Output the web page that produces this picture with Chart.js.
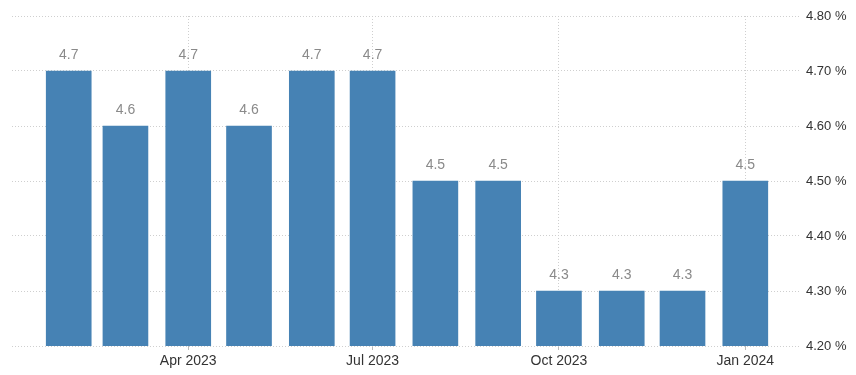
<!DOCTYPE html>
<html>
<head>
<meta charset="utf-8">
<script src="https://cdn.jsdelivr.net/npm/chart.js@4/dist/chart.umd.min.js"></script>
<style>
html,body{margin:0;padding:0;background:#fff;}
#wrap{width:856px;height:375px;position:relative;}
</style>
</head>
<body>
<div id="wrap"><canvas id="c" width="856" height="375"></canvas></div>
<script>
const categories = ["2023-02-01","2023-03-01","2023-04-01","2023-05-01","2023-06-01","2023-07-01","2023-08-01","2023-09-01","2023-10-01","2023-11-01","2023-12-01","2024-01-01"];
const values = [4.7, 4.6, 4.7, 4.6, 4.7, 4.7, 4.5, 4.5, 4.3, 4.3, 4.3, 4.5];
const xTickDates = ["2023-04-01","2023-07-01","2023-10-01","2024-01-01"];
const xTickLabels = ["Apr 2023","Jul 2023","Oct 2023","Jan 2024"];
const yTicks = [4.2, 4.3, 4.4, 4.5, 4.6, 4.7, 4.8];

const FONT = "'Liberation Sans', Arial, sans-serif";
const DAY = 86400000;
const toDay = s => Date.parse(s + "T00:00:00Z") / DAY;

const labelPlugin = {
  id: 'valueLabels',
  afterDatasetsDraw(chart) {
    const ctx = chart.ctx;
    const meta = chart.getDatasetMeta(0);
    ctx.save();
    ctx.font = "14px " + FONT;
    ctx.fillStyle = "#8a8a8a";
    ctx.textAlign = "center";
    ctx.textBaseline = "bottom";
    meta.data.forEach((bar, i) => {
      ctx.fillText(values[i].toFixed(1), bar.x, bar.y - 9);
    });
    ctx.restore();
  }
};

const tickDays = xTickDates.map(toDay);
const firstDay = toDay(categories[0]);
const lastDay = toDay(categories[categories.length - 1]);

new Chart(document.getElementById('c'), {
  type: 'bar',
  data: {
    datasets: [{
      data: values.map((v, i) => ({x: toDay(categories[i]), y: v})),
      backgroundColor: '#4682b4',
      borderWidth: 0,
      barThickness: 45
    }]
  },
  options: {
    responsive: false,
    animation: false,
    devicePixelRatio: 1,
    layout: { padding: { left: 12, top: 16, right: 0, bottom: 0 } },
    plugins: { legend: { display: false }, tooltip: { enabled: false } },
    scales: {
      x: {
        type: 'linear',
        offset: false,
        min: firstDay - 28,
        max: lastDay + 27,
        afterBuildTicks(scale) { scale.ticks = tickDays.map(v => ({value: v})); },
        afterFit(scale) { scale.height = 29; },
        ticks: {
          autoSkip: false,
          maxRotation: 0,
          padding: 3,
          color: '#333',
          font: { family: FONT, size: 14 },
          callback: (v) => xTickLabels[tickDays.indexOf(v)]
        },
        grid: {
          offset: false,
          color: '#cfcfcf',
          tickColor: '#bbbbbb',
          tickLength: 4,
          drawTicks: true
        },
        border: { display: false, dash: [1, 2] }
      },
      y: {
        position: 'right',
        min: 4.2,
        max: 4.8,
        afterBuildTicks(scale) { scale.ticks = yTicks.map(v => ({value: v})); },
        afterFit(scale) { scale.width = 56; },
        ticks: {
          padding: 6,
          color: '#333',
          font: { family: FONT, size: 13 },
          callback: (v) => v.toFixed(2) + " %"
        },
        grid: { color: '#cfcfcf', drawTicks: false },
        border: { display: false, dash: [1, 2] }
      }
    }
  },
  plugins: [labelPlugin]
});
</script>
</body>
</html>
